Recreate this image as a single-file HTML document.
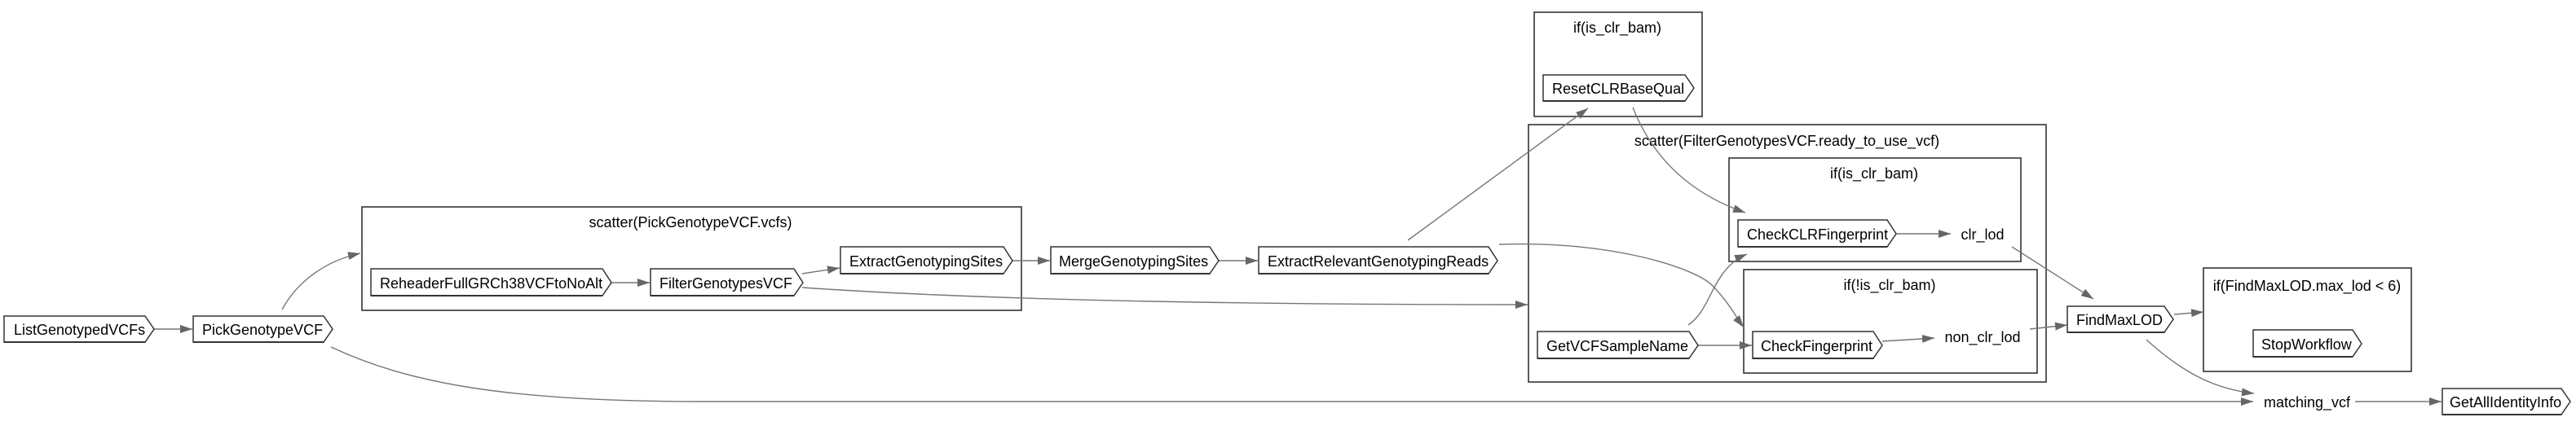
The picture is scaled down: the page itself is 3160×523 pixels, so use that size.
<!DOCTYPE html>
<html><head><meta charset="utf-8"><style>
html,body{margin:0;padding:0;background:#fff;}
svg{display:block;}
text{font-family:"Liberation Sans",Arial,sans-serif;font-size:18px;fill:#000;}
.n{fill:#fff;stroke:#333;stroke-width:1.5;}
.nb{stroke:#333;stroke-width:2;}
.c{fill:none;stroke:#333;stroke-width:1.6;}
.e{fill:none;stroke:#777;stroke-width:1.4;}
</style></head><body>
<svg width="3160" height="523" viewBox="0 0 3160 523" xmlns="http://www.w3.org/2000/svg">
<defs><marker id="a" markerUnits="userSpaceOnUse" markerWidth="16" markerHeight="12" refX="15" refY="5" orient="auto"><path d="M0,0 L15,5 L0,10 z" fill="#666"/></marker></defs>

<!-- clusters -->
<rect class="c" x="444" y="254" width="809" height="127"/>
<text x="847" y="279" text-anchor="middle">scatter(PickGenotypeVCF.vcfs)</text>
<rect class="c" x="1882" y="15" width="206" height="128"/>
<text x="1984" y="40" text-anchor="middle">if(is_clr_bam)</text>
<rect class="c" x="1875" y="153" width="635" height="316"/>
<text x="2192" y="179" text-anchor="middle">scatter(FilterGenotypesVCF.ready_to_use_vcf)</text>
<rect class="c" x="2121" y="194" width="358" height="127"/>
<text x="2299" y="219" text-anchor="middle">if(is_clr_bam)</text>
<rect class="c" x="2139" y="331" width="360" height="127"/>
<text x="2318" y="356" text-anchor="middle">if(!is_clr_bam)</text>
<rect class="c" x="2703" y="329" width="255" height="127"/>
<text x="2830" y="357" text-anchor="middle">if(FindMaxLOD.max_lod &lt; 6)</text>

<!-- edges -->
<path class="e" marker-end="url(#a)" d="M189,404 L236,404"/>
<path class="e" marker-end="url(#a)" d="M346,380 C365,345 400,320 442,311"/>
<path class="e" marker-end="url(#a)" d="M406,426 C500,470 620,493 862,493 L2764,493"/>
<path class="e" marker-end="url(#a)" d="M750,347 L797,347"/>
<path class="e" marker-end="url(#a)" d="M984,336 L1030,329"/>
<path class="e" marker-end="url(#a)" d="M984,353 C1200,368 1500,374 1874,374"/>
<path class="e" marker-end="url(#a)" d="M1242,320 L1288,320"/>
<path class="e" marker-end="url(#a)" d="M1495,320 L1543,320"/>
<path class="e" marker-end="url(#a)" d="M1727,295 L1948,133"/>
<path class="e" marker-end="url(#a)" d="M2003,132 C2030,200 2080,240 2141,261"/>
<path class="e" marker-end="url(#a)" d="M1839,300 C1980,295 2080,330 2100,350 C2120,370 2130,390 2139,402"/>
<path class="e" marker-end="url(#a)" d="M2071,399 C2100,380 2100,330 2143,312"/>
<path class="e" marker-end="url(#a)" d="M2083,424 L2149,424"/>
<path class="e" marker-end="url(#a)" d="M2326,287 L2393,287"/>
<path class="e" marker-end="url(#a)" d="M2309,419 L2373,415"/>
<path class="e" marker-end="url(#a)" d="M2468,303 L2568,367"/>
<path class="e" marker-end="url(#a)" d="M2490,404 L2536,399"/>
<path class="e" marker-end="url(#a)" d="M2667,386 L2703,383"/>
<path class="e" marker-end="url(#a)" d="M2633,417 C2680,460 2720,478 2765,483"/>
<path class="e" marker-end="url(#a)" d="M2889,493 L2995,493"/>

<!-- nodes -->
<polygon class="n" points="5,388 178,388 189,404 178,420 5,420"/><line class="nb" x1="5" y1="420" x2="178" y2="420"/>
<text x="17" y="411">ListGenotypedVCFs</text>
<polygon class="n" points="237,388 397,388 408,404 397,420 237,420"/><line class="nb" x1="237" y1="420" x2="397" y2="420"/>
<text x="248" y="411">PickGenotypeVCF</text>
<polygon class="n" points="455,330 739,330 750,347 739,363 455,363"/><line class="nb" x1="455" y1="363" x2="739" y2="363"/>
<text x="466" y="354">ReheaderFullGRCh38VCFtoNoAlt</text>
<polygon class="n" points="798,330 974,330 985,347 974,363 798,363"/><line class="nb" x1="798" y1="363" x2="974" y2="363"/>
<text x="809" y="354">FilterGenotypesVCF</text>
<polygon class="n" points="1031,303 1231,303 1242,320 1231,336 1031,336"/><line class="nb" x1="1031" y1="336" x2="1231" y2="336"/>
<text x="1042" y="327">ExtractGenotypingSites</text>
<polygon class="n" points="1289,303 1484,303 1495,320 1484,336 1289,336"/><line class="nb" x1="1289" y1="336" x2="1484" y2="336"/>
<text x="1299" y="327">MergeGenotypingSites</text>
<polygon class="n" points="1544,303 1826,303 1837,320 1826,336 1544,336"/><line class="nb" x1="1544" y1="336" x2="1826" y2="336"/>
<text x="1555" y="327">ExtractRelevantGenotypingReads</text>
<polygon class="n" points="1893,92 2067,92 2078,108 2067,124 1893,124"/><line class="nb" x1="1893" y1="124" x2="2067" y2="124"/>
<text x="1904" y="115">ResetCLRBaseQual</text>
<polygon class="n" points="2132,270 2315,270 2326,287 2315,303 2132,303"/><line class="nb" x1="2132" y1="303" x2="2315" y2="303"/>
<text x="2143" y="294">CheckCLRFingerprint</text>
<polygon class="n" points="2150,407 2298,407 2309,424 2298,440 2150,440"/><line class="nb" x1="2150" y1="440" x2="2298" y2="440"/>
<text x="2160" y="431">CheckFingerprint</text>
<polygon class="n" points="1886,407 2072,407 2083,424 2072,440 1886,440"/><line class="nb" x1="1886" y1="440" x2="2072" y2="440"/>
<text x="1897" y="431">GetVCFSampleName</text>
<polygon class="n" points="2536,376 2655,376 2666,392 2655,408 2536,408"/><line class="nb" x1="2536" y1="408" x2="2655" y2="408"/>
<text x="2547" y="399">FindMaxLOD</text>
<polygon class="n" points="2764,405 2886,405 2897,422 2886,438 2764,438"/><line class="nb" x1="2764" y1="438" x2="2886" y2="438"/>
<text x="2774" y="429">StopWorkflow</text>
<polygon class="n" points="2996,477 3142,477 3153,493 3142,509 2996,509"/><line class="nb" x1="2996" y1="509" x2="3142" y2="509"/>
<text x="3005" y="500">GetAllIdentityInfo</text>

<!-- plain labels -->
<text x="2432" y="294" text-anchor="middle">clr_lod</text>
<text x="2432" y="420" text-anchor="middle">non_clr_lod</text>
<text x="2830" y="500" text-anchor="middle">matching_vcf</text>
</svg>
</body></html>
